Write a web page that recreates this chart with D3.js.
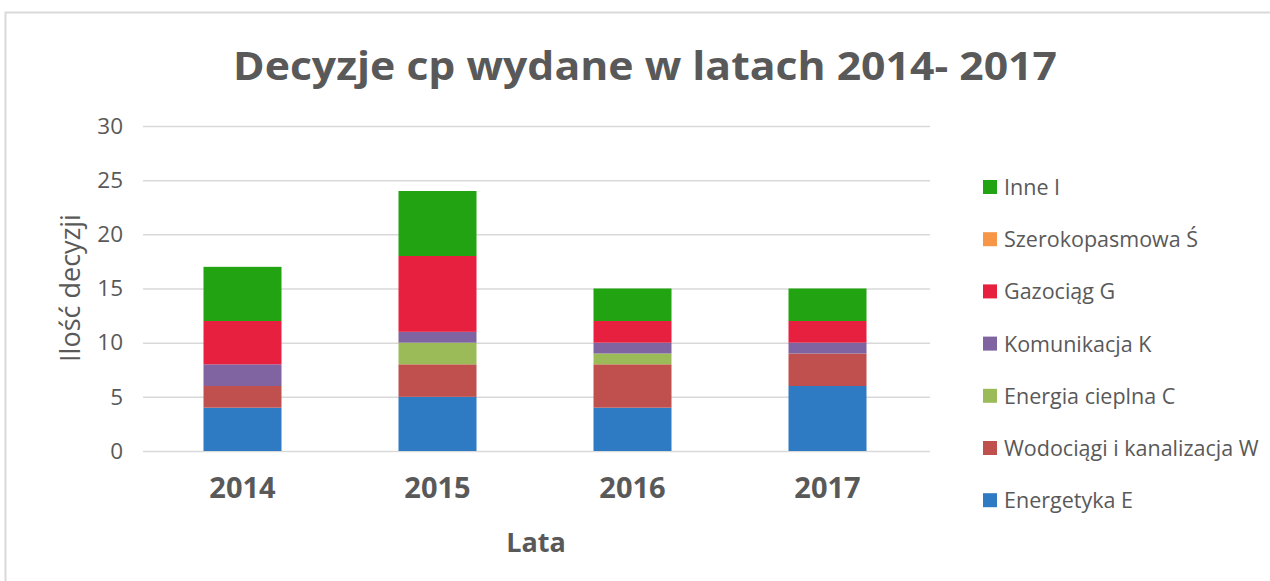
<!DOCTYPE html>
<html>
<head>
<meta charset="utf-8">
<script src="https://cdn.jsdelivr.net/npm/d3@7"></script>
<style>
  body { margin: 0; background: #fff; }
  text { font-family: "Open Sans", "DejaVu Sans", sans-serif; fill: #595959; }
</style>
</head>
<body>
<div id="graph-area"></div>
<script>
const YEARS = ['2014', '2015', '2016', '2017']
const SERIES = ['Energetyka E', 'Wodociągi i kanalizacja W', 'Energia cieplna C',
  'Komunikacja K', 'Gazociąg G', 'Szerokopasmowa Ś', 'Inne I']
const COLORS = ['#2f7bc3', '#c0504d', '#9bbb59', '#8064a2', '#e72040', '#f79646', '#22a312']
const ENERGETYKA = [4, 5, 4, 6]
const WODOCIAGI = [2, 3, 4, 3]
const CIEPLNA = [0, 2, 1, 0]
const KOMUNIKACJA = [2, 1, 1, 1]
const GAZOCIAG = [4, 7, 2, 2]
const SZEROKOPASMOWA = [0, 0, 0, 0]
const INNE = [5, 6, 3, 3]
const Y_TICKS = [0, 5, 10, 15, 20, 25, 30]

const VALUES = [ENERGETYKA, WODOCIAGI, CIEPLNA, KOMUNIKACJA, GAZOCIAG, SZEROKOPASMOWA, INNE]

// table for d3.stack
const rows = YEARS.map((year, i) => {
  const row = { year: year }
  SERIES.forEach((s, j) => { row[s] = VALUES[j][i] })
  return row
})

const W = 1270
const H = 581

var svg = d3.select('#graph-area').append('svg')
  .attr('width', W)
  .attr('height', H)

// chart border
svg.append('rect')
  .attr('x', 5.5).attr('y', 12.5)
  .attr('width', W + 10).attr('height', H + 10)
  .attr('fill', 'none')
  .attr('stroke', '#d9d9d9')
  .attr('stroke-width', 2)

// title
svg.append('text')
  .attr('x', 645).attr('y', 80)
  .attr('text-anchor', 'middle')
  .attr('font-size', 40)
  .attr('font-weight', 'bold')
  .attr('textLength', 824)
  .attr('lengthAdjust', 'spacingAndGlyphs')
  .text('Decyzje cp wydane w latach 2014- 2017')

var xScale = d3.scaleBand()
  .domain(YEARS)
  .range([145, 925])
  .paddingInner(0.6)
  .paddingOuter(0.3)

var yScale = d3.scaleLinear()
  .domain([0, 30])
  .range([451, 126])

// grid
svg.append('g')
  .selectAll('line')
  .data(Y_TICKS)
  .enter()
  .append('line')
  .attr('x1', 143).attr('x2', 930)
  .attr('y1', d => yScale(d) + 0.5).attr('y2', d => yScale(d) + 0.5)
  .attr('stroke', '#d9d9d9')
  .attr('stroke-width', 1.5)

// y axis labels
var yAxis = svg.append('g')
  .attr('transform', 'translate(123,0)')
  .call(d3.axisLeft(yScale).tickValues(Y_TICKS).tickSize(0).tickPadding(0))
yAxis.select('.domain').remove()
yAxis.selectAll('text')
  .attr('font-size', 22.5)
  .attr('fill', '#595959')
  .style('font-family', '"Open Sans", sans-serif')

// stacked bars
var stacked = d3.stack().keys(SERIES)(rows)
svg.append('g')
  .selectAll('g')
  .data(stacked)
  .enter()
  .append('g')
  .attr('fill', (d, i) => COLORS[i])
  .selectAll('rect')
  .data(d => d)
  .enter()
  .append('rect')
  .attr('x', d => xScale(d.data.year))
  .attr('width', xScale.bandwidth())
  .attr('y', d => yScale(d[1]))
  .attr('height', d => yScale(d[0]) - yScale(d[1]))

// x axis labels
var xAxis = svg.append('g')
  .attr('transform', 'translate(0,477)')
  .call(d3.axisBottom(xScale).tickSize(0).tickPadding(0))
xAxis.select('.domain').remove()
xAxis.selectAll('text')
  .attr('font-size', 29)
  .attr('font-weight', 'bold')
  .attr('fill', '#595959')
  .style('font-family', '"Open Sans", sans-serif')

// axis titles
svg.append('text')
  .attr('x', 536).attr('y', 552)
  .attr('text-anchor', 'middle')
  .attr('font-size', 27)
  .attr('font-weight', 'bold')
  .text('Lata')

svg.append('text')
  .attr('transform', 'translate(80,288) rotate(-90)')
  .attr('text-anchor', 'middle')
  .attr('font-size', 27)
  .text('Ilość decyzji')

// legend, reversed order like the stack
var legendItems = SERIES.map((s, i) => ({ name: s, color: COLORS[i] })).reverse()
var legend = svg.append('g')
  .selectAll('g')
  .data(legendItems)
  .enter()
  .append('g')
  .attr('transform', (d, i) => 'translate(983,' + (187 + i * 52.2) + ')')
legend.append('rect')
  .attr('x', 0).attr('y', -7)
  .attr('width', 14).attr('height', 14)
  .attr('fill', d => d.color)
legend.append('text')
  .attr('x', 21).attr('y', 8)
  .attr('font-size', 21.5)
  .text(d => d.name)
</script>
</body>
</html>
